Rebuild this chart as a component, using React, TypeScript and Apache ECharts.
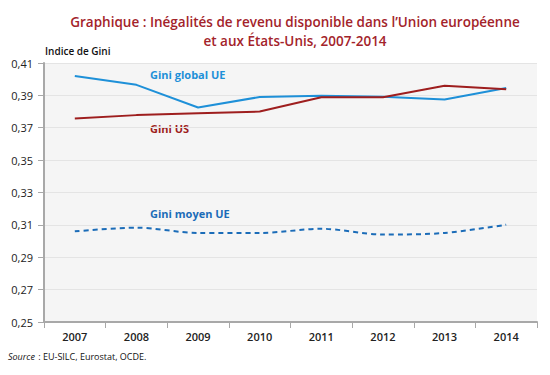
import React, { useEffect, useRef } from "react";
import * as echarts from "echarts";

const years = ["2007", "2008", "2009", "2010", "2011", "2012", "2013", "2014"];
const giniGlobalUE = [0.402, 0.3965, 0.3825, 0.389, 0.3897, 0.3892, 0.3875, 0.3946];
const giniUS = [0.3757, 0.3778, 0.379, 0.38, 0.3888, 0.3889, 0.396, 0.3938];
const giniMoyenUE = [0.306, 0.3083, 0.305, 0.305, 0.3076, 0.304, 0.305, 0.3101];
const yTicks = { min: 0.25, max: 0.41, interval: 0.02 };

const FONT = "'Open Sans', 'Noto Sans', sans-serif";

export default function App() {
  const ref = useRef<HTMLDivElement>(null);
  useEffect(() => {
    if (!ref.current) return;
    const chart = echarts.init(ref.current, null, { renderer: "svg" });
    chart.setOption({
      animation: false,
      backgroundColor: "#ffffff",
      textStyle: { fontFamily: FONT },
      title: {
        text: "Graphique : Inégalités de revenu disponible dans l’Union européenne\net aux États-Unis, 2007-2014",
        left: 290,
        textAlign: "center",
        top: 7,
        textStyle: {
          fontFamily: FONT,
          fontSize: 13.5,
          fontWeight: 600,
          color: "#a3232a",
          lineHeight: 19,
        },
      },
      grid: {
        left: 44,
        right: 13,
        top: 63,
        bottom: 53,
        show: true,
        backgroundColor: "#f5f5f5",
        borderWidth: 0,
      },
      xAxis: {
        type: "category",
        data: years,
        boundaryGap: true,
        axisLine: { lineStyle: { color: "#a8a8a8", width: 2 } },
        axisTick: { show: true, lineStyle: { color: "#a8a8a8" }, length: 6 },
        axisLabel: { color: "#222", fontSize: 11, fontWeight: 600, margin: 9, fontFamily: FONT },
      },
      yAxis: {
        type: "value",
        min: yTicks.min,
        max: yTicks.max,
        interval: yTicks.interval,
        axisLine: { show: true, lineStyle: { color: "#a8a8a8", width: 2 } },
        axisTick: { show: true, lineStyle: { color: "#a8a8a8" }, length: 6 },
        splitLine: { lineStyle: { color: "#e4e4e4", width: 1 } },
        axisLabel: {
          color: "#222",
          fontSize: 11,
          margin: 11,
          fontFamily: FONT,
          formatter: (v: number) => v.toFixed(2).replace(".", ","),
        },
      },
      series: [
        {
          name: "Gini global UE",
          type: "line",
          data: giniGlobalUE,
          symbol: "none",
          lineStyle: { color: "#1e90d8", width: 2 },
        },
        {
          name: "Gini US",
          type: "line",
          data: giniUS,
          symbol: "none",
          lineStyle: { color: "#9e1e1e", width: 2 },
        },
        {
          name: "Gini moyen UE",
          type: "line",
          data: giniMoyenUE,
          symbol: "none",
          smooth: 0.3,
          lineStyle: { color: "#1b6cb8", width: 2, type: [5, 4] },
        },
      ],
      graphic: [
        {
          type: "text",
          left: 45,
          top: 46,
          style: { text: "Indice de Gini", fontSize: 10, fontWeight: 600, fill: "#111", fontFamily: FONT },
        },
        {
          type: "text",
          left: 150,
          top: 69,
          style: { text: "Gini global UE", fontSize: 11, fontWeight: "bold", fill: "#1e90d8", fontFamily: FONT },
        },
        {
          type: "text",
          left: 150,
          top: 123,
          style: { text: "Gini US", fontSize: 11, fontWeight: "bold", fill: "#9e1e1e", fontFamily: FONT },
        },
        {
          type: "text",
          left: 150,
          top: 208,
          style: { text: "Gini moyen UE", fontSize: 11, fontWeight: "bold", fill: "#1b6cb8", fontFamily: FONT },
        },
        {
          type: "text",
          left: 8,
          top: 350,
          style: {
            rich: {
              i: { fontStyle: "italic", fontSize: 9, fill: "#111", fontFamily: FONT },
              n: { fontSize: 9, fill: "#111", fontFamily: FONT },
            },
            text: "{i|Source} {n|: EU-SILC, Eurostat, OCDE.}",
          },
        },
      ],
    });
    return () => chart.dispose();
  }, []);
  return (
    <div
      ref={ref}
      style={{ position: "absolute", left: 0, top: 0, width: 550, height: 375 }}
    />
  );
}
